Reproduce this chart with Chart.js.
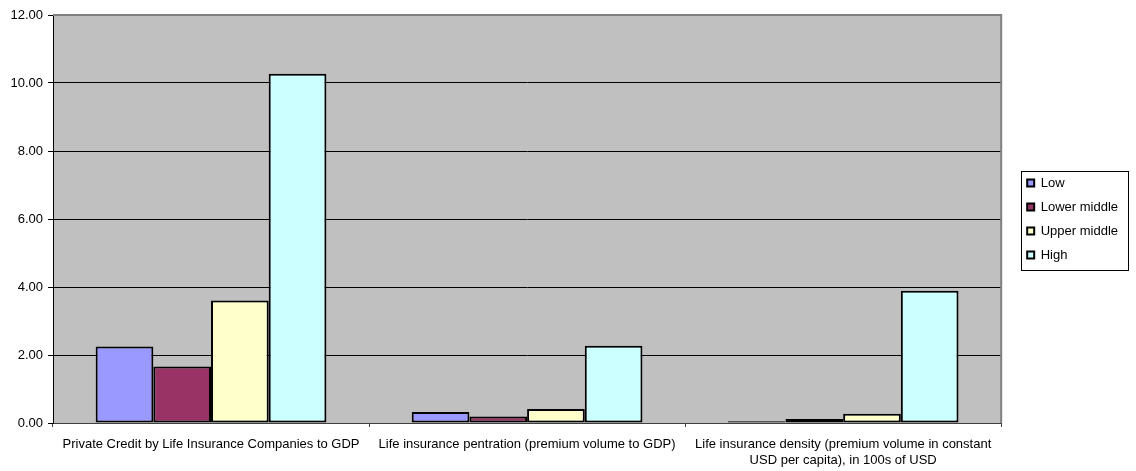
<!DOCTYPE html>
<html>
<head>
<meta charset="utf-8">
<script src="https://cdn.jsdelivr.net/npm/chart.js@4/dist/chart.umd.min.js"></script>
<style>
  html, body { margin: 0; padding: 0; background: #fff; }
</style>
</head>
<body>
<canvas id="myChart" width="1136" height="471"></canvas>
<script>
// categories (indicators) and income groups
var categories = [
    'Private Credit by Life Insurance Companies to GDP',
    'Life insurance pentration (premium volume to GDP)',
    ['Life insurance density (premium volume in constant', 'USD per capita), in 100s of USD']
];
var lowValues = [2.25, 0.32, 0.05];
var lowerMiddleValues = [1.66, 0.19, 0.12];
var upperMiddleValues = [3.60, 0.41, 0.27];
var highValues = [10.27, 2.27, 3.89];
var yTicks = [0, 2, 4, 6, 8, 10, 12];

var FONT = 'Arial, "Liberation Sans", sans-serif';

// gray plot area, top/right frame, legend frame
var plotFrame = {
    id: 'plotFrame',
    afterLayout: function (chart) {
        // keep the legend centred on the plot area, like Excel does
        var lg = chart.legend, a = chart.chartArea;
        if (lg) {
            lg.top = a.top;
            lg.bottom = a.bottom;
            lg.height = a.bottom - a.top;
        }
    },
    beforeDraw: function (chart) {
        var a = chart.chartArea, ctx = chart.ctx;
        ctx.save();
        ctx.fillStyle = '#C0C0C0';
        ctx.fillRect(a.left, a.top, a.right - a.left, a.bottom - a.top);
        ctx.restore();
    },
    afterDraw: function (chart) {
        var a = chart.chartArea, ctx = chart.ctx;
        ctx.save();
        ctx.strokeStyle = '#808080';
        ctx.lineWidth = 2;
        ctx.beginPath();
        ctx.moveTo(a.left, a.top);
        ctx.lineTo(a.right, a.top);
        ctx.lineTo(a.right, a.bottom);
        ctx.stroke();

        var lg = chart.legend;
        if (lg && lg.legendHitBoxes && lg.legendHitBoxes.length) {
            var hb = lg.legendHitBoxes;
            var first = hb[0], last = hb[hb.length - 1];
            var maxW = 0;
            hb.forEach(function (h) { maxW = Math.max(maxW, h.width); });
            ctx.strokeStyle = '#000';
            ctx.lineWidth = 1;
            ctx.strokeRect(Math.round(first.left - 6) + 0.5, Math.round(first.top - 6) + 0.5,
                Math.round(maxW + 16), Math.round(last.top + last.height - first.top + 14));
        }
        ctx.restore();
    }
};

new Chart(document.getElementById('myChart'), {
    type: 'bar',
    data: {
        labels: categories,
        datasets: [
            { label: 'Low', data: lowValues, backgroundColor: '#9999FF' },
            { label: 'Lower middle', data: lowerMiddleValues, backgroundColor: '#993366' },
            { label: 'Upper middle', data: upperMiddleValues, backgroundColor: '#FFFFCC' },
            { label: 'High', data: highValues, backgroundColor: '#CCFFFF' }
        ].map(function (d) {
            d.borderColor = '#000';
            d.borderWidth = 2;
            d.borderSkipped = false;
            d.categoryPercentage = 0.73;
            d.barPercentage = 1.0;
            return d;
        })
    },
    options: {
        responsive: false,
        animation: false,
        devicePixelRatio: 1,
        layout: { padding: { top: 15, right: 8, bottom: 0, left: 0 } },
        plugins: {
            tooltip: { enabled: false },
            legend: {
                position: 'right',
                labels: {
                    boxWidth: 7,
                    boxHeight: 7,
                    padding: 11,
                    color: '#000',
                    font: { family: FONT, size: 13 }
                }
            }
        },
        scales: {
            x: {
                offset: true,
                afterFit: function (s) { s.height = 48; },
                grid: { offset: true, drawOnChartArea: false, tickLength: 4, color: '#404040' },
                border: { color: '#404040', width: 1 },
                ticks: {
                    color: '#000',
                    maxRotation: 0,
                    autoSkip: false,
                    padding: 10,
                    font: { family: FONT, size: 13 }
                }
            },
            y: {
                min: 0,
                max: 12,
                afterFit: function (s) { s.width = 53; },
                afterBuildTicks: function (s) {
                    s.ticks = yTicks.map(function (v) { return { value: v }; });
                },
                grid: { color: '#000', lineWidth: 1, tickLength: 5 },
                border: { color: '#000', width: 1 },
                ticks: {
                    color: '#000',
                    padding: 5,
                    font: { family: FONT, size: 13 },
                    callback: function (v) { return Number(v).toFixed(2); }
                }
            },
            y2: {
                position: 'right',
                display: true,
                afterFit: function (s) { s.width = 15; },
                grid: { display: false },
                border: { display: false },
                ticks: { display: false }
            }
        }
    },
    plugins: [plotFrame]
});
</script>
</body>
</html>
